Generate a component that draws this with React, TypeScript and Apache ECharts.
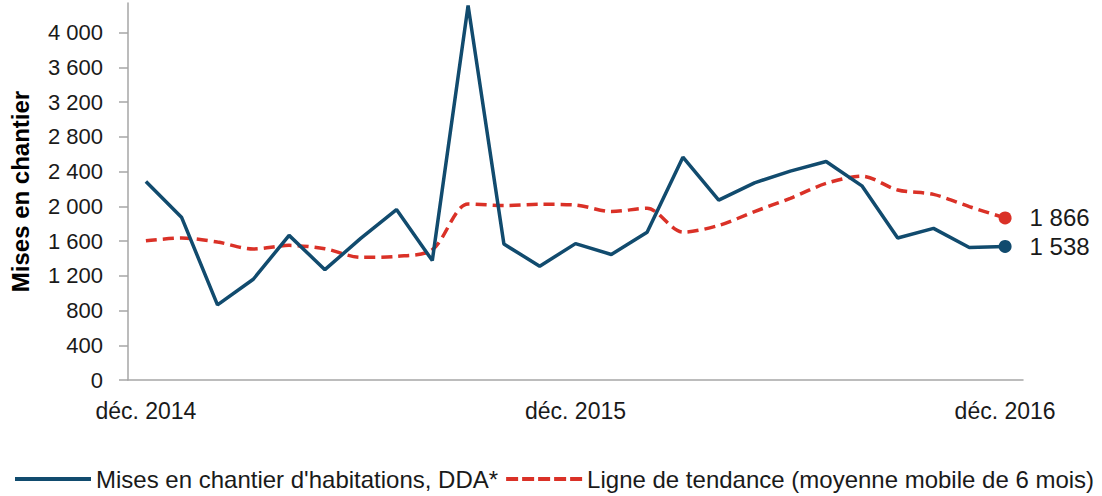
import React, { useEffect, useRef } from "react";
import * as echarts from "echarts";

const categories = [
  "déc. 2014", "janv. 2015", "févr. 2015", "mars 2015", "avr. 2015", "mai 2015",
  "juin 2015", "juil. 2015", "août 2015", "sept. 2015", "oct. 2015", "nov. 2015",
  "déc. 2015", "janv. 2016", "févr. 2016", "mars 2016", "avr. 2016", "mai 2016",
  "juin 2016", "juil. 2016", "août 2016", "sept. 2016", "oct. 2016", "nov. 2016",
  "déc. 2016",
];

const misesEnChantier = [
  2285, 1870, 865, 1160, 1665, 1270, 1630, 1962, 1375, 4310, 1565, 1310,
  1570, 1445, 1700, 2565, 2070, 2270, 2405, 2515, 2235, 1635, 1745, 1525, 1538,
];

const tendance = [
  1603, 1634, 1588, 1508, 1550, 1511, 1412, 1424, 1500, 2027, 2008, 2023,
  2015, 1939, 1977, 1702, 1779, 1939, 2092, 2263, 2347, 2187, 2137, 1996, 1866,
];

const seriesNames = [
  "Mises en chantier d'habitations, DDA*",
  "Ligne de tendance (moyenne mobile de 6 mois)",
];

const FONT = "'Liberation Sans', Arial, sans-serif";
const BLUE = "#114B6E";
const RED = "#DA3127";
const TEXT = "#1a1a1a";

const SOLID_ICON = "path://M0,0H76V4H0Z";
const DASH_ICON =
  "path://M0,0h12v4h-12z M16,0h12v4h-12z M32,0h12v4h-12z M48,0h12v4h-12z M64,0h12v4h-12z";

const fmt = (v: number) => String(v).replace(/\B(?=(\d{3})+(?!\d))/g, " ");

function endMarker(values: number[], color: string) {
  const last = values.length - 1;
  return {
    symbol: "circle",
    symbolSize: 13,
    itemStyle: { color },
    label: {
      show: true,
      position: "right",
      distance: 18,
      formatter: () => fmt(values[last]),
      fontFamily: FONT,
      fontSize: 24,
      color: TEXT,
    },
    data: [{ coord: [last, values[last]], value: values[last] }],
  };
}

export default function App() {
  const ref = useRef<HTMLDivElement>(null);
  useEffect(() => {
    if (!ref.current) return;
    const chart = echarts.init(ref.current, null, { renderer: "svg" });
    chart.setOption({
      animation: false,
      backgroundColor: "#ffffff",
      grid: { left: 126, right: 79, top: 3, bottom: 116, containLabel: false },
      legend: {
        left: 15,
        top: 467,
        itemWidth: 76,
        itemHeight: 4,
        itemGap: 8,
        padding: 0,
        symbolKeepAspect: false,
        textStyle: { fontFamily: FONT, fontSize: 24, color: TEXT },
        data: [
          { name: seriesNames[0], icon: SOLID_ICON },
          { name: seriesNames[1], icon: DASH_ICON },
        ],
      },
      xAxis: {
        type: "category",
        data: categories,
        boundaryGap: true,
        axisLine: { lineStyle: { color: "#a6a6a6", width: 1.5 } },
        axisTick: { interval: 11, length: 9, lineStyle: { color: "#a6a6a6", width: 1.5 } },
        axisLabel: {
          interval: 11,
          margin: 19,
          fontFamily: FONT,
          fontSize: 23,
          color: TEXT,
        },
        splitLine: { show: false },
      },
      yAxis: {
        type: "value",
        min: 0,
        max: 4340,
        interval: 400,
        name: "Mises en chantier",
        nameLocation: "middle",
        nameRotate: 90,
        nameGap: 96,
        nameTextStyle: { fontFamily: FONT, fontSize: 24, fontWeight: "bold", color: "#000" },
        axisLine: { show: true, lineStyle: { color: "#a6a6a6", width: 1.5 } },
        axisTick: { show: true, length: 9, lineStyle: { color: "#a6a6a6", width: 1.5 } },
        axisLabel: {
          margin: 25,
          fontFamily: FONT,
          fontSize: 22,
          color: TEXT,
          showMaxLabel: false,
          formatter: (v: number) => (v > 4000 ? "" : fmt(v)),
        },
        splitLine: { show: false },
      },
      series: [
        {
          name: seriesNames[0],
          type: "line",
          symbol: "none",
          data: misesEnChantier,
          lineStyle: { color: BLUE, width: 3.5 },
          itemStyle: { color: BLUE },
          markPoint: endMarker(misesEnChantier, BLUE),
          z: 3,
        },
        {
          name: seriesNames[1],
          type: "line",
          symbol: "none",
          smooth: 0.3,
          data: tendance,
          lineStyle: { color: RED, width: 3.5, type: [11, 6] },
          itemStyle: { color: RED },
          markPoint: endMarker(tendance, RED),
          z: 2,
        },
      ],
    });
    return () => chart.dispose();
  }, []);
  return (
    <div
      ref={ref}
      style={{ position: "fixed", left: 0, top: 0, width: 1102, height: 496 }}
    />
  );
}
